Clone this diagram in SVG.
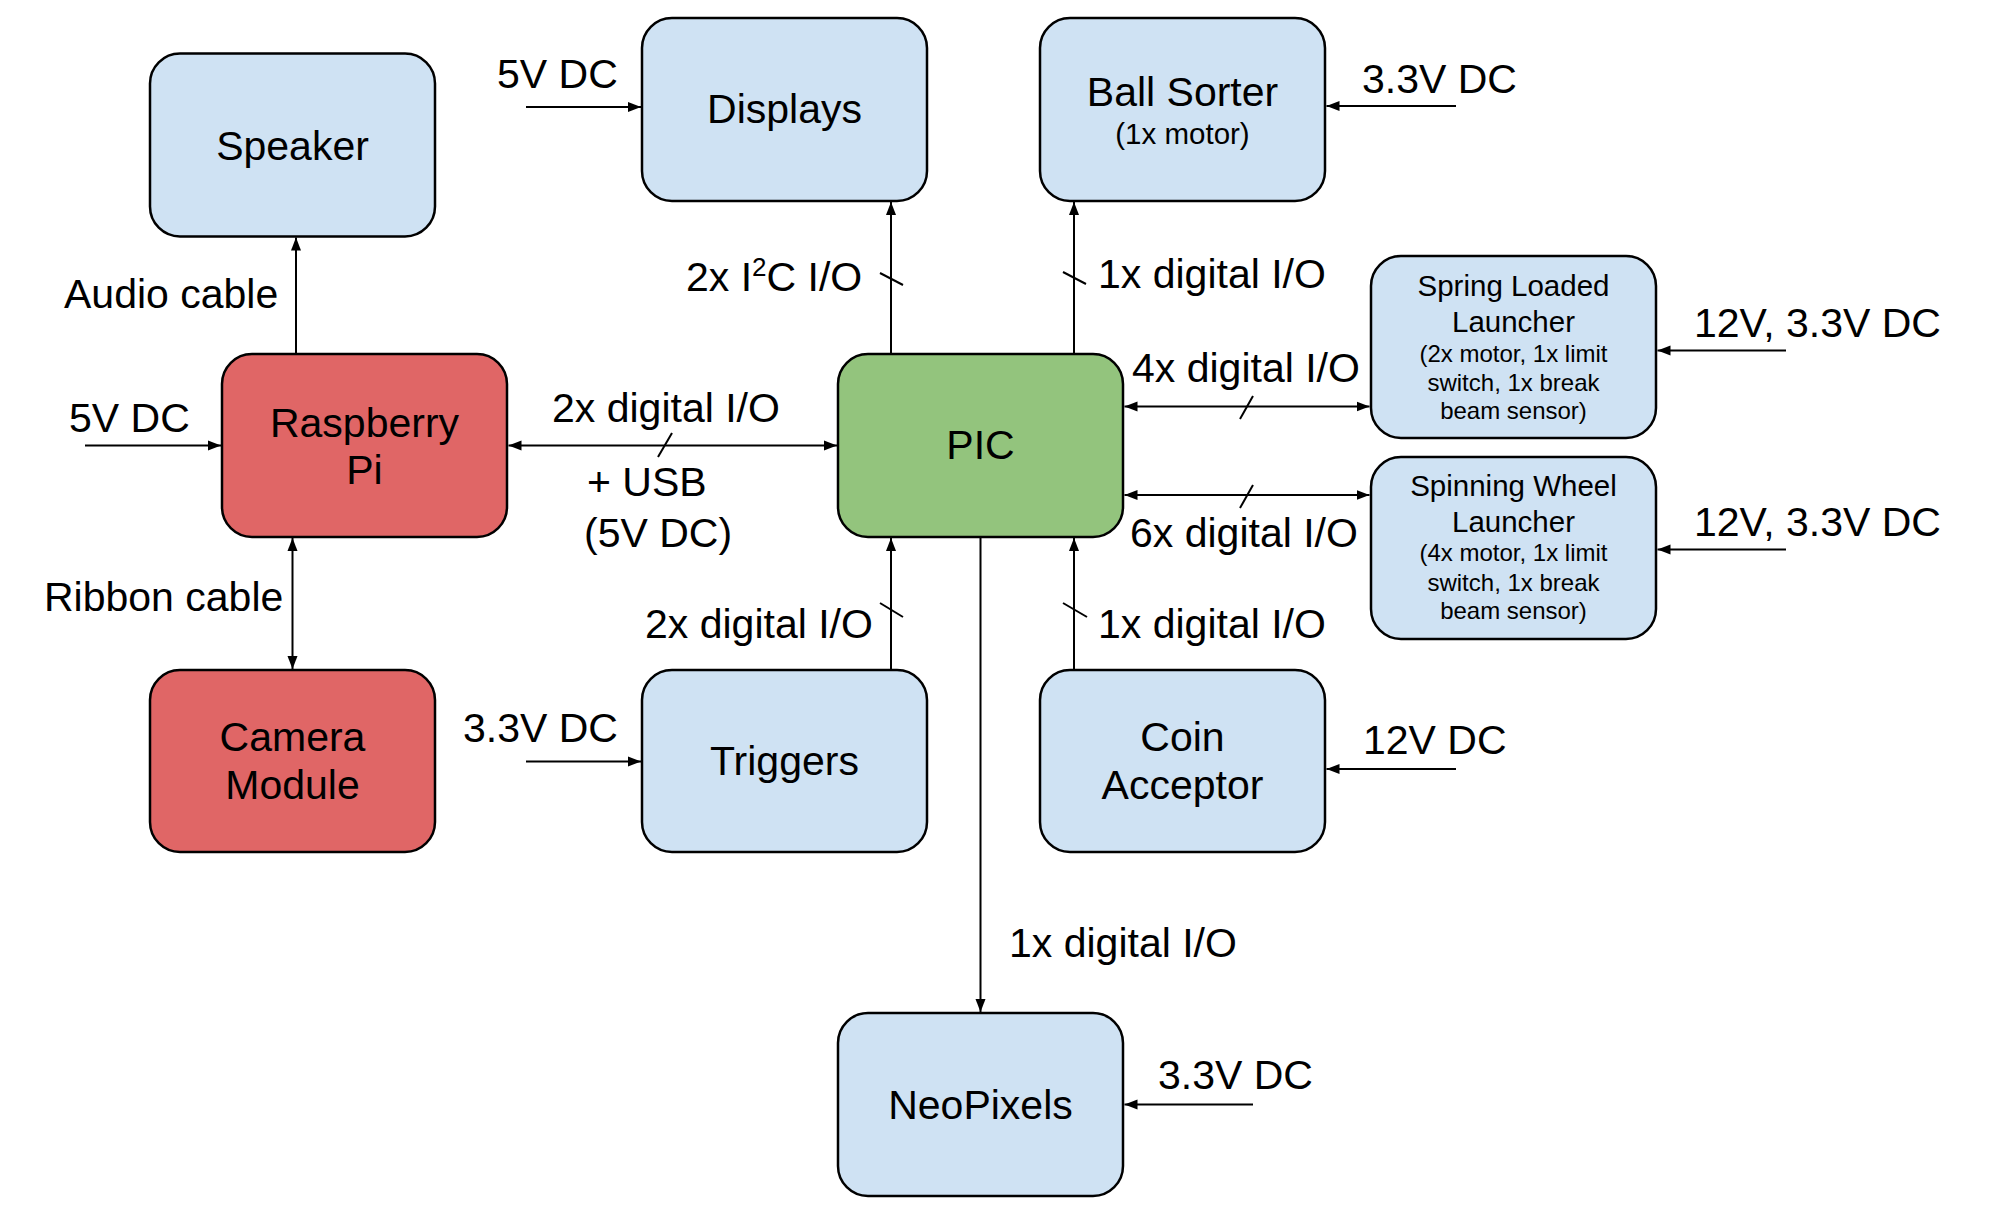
<svg xmlns="http://www.w3.org/2000/svg" width="1992" height="1225" viewBox="0 0 1992 1225">
<style>
.box{stroke:#000;stroke-width:2.5}
.blue{fill:#cfe2f3}
.red{fill:#e06666}
.green{fill:#93c47d}
text{font-family:"Liberation Sans",Arial,sans-serif;fill:#000}
.t{font-size:41px}
.c{text-anchor:middle}
.m{font-size:29.5px}
.s{font-size:24px}
.ln{stroke:#000;stroke-width:2;fill:none}
</style>
<defs>
<marker id="ah" markerUnits="userSpaceOnUse" markerWidth="14" markerHeight="11" refX="13" refY="5" orient="auto-start-reverse" viewBox="0 0 14 10">
<path d="M0,0 L13,5 L0,10 z" fill="#000"/>
</marker>
</defs>
<rect width="1992" height="1225" fill="#fff"/>

<g id="speaker">
<rect class="box blue" x="150" y="53.5" width="285" height="183" rx="30"/>
<text class="t c" x="292.5" y="160">Speaker</text>
</g>
<g id="displays">
<rect class="box blue" x="642" y="18" width="285" height="183" rx="30"/>
<text class="t c" x="784.5" y="123">Displays</text>
</g>
<g id="ballsorter">
<rect class="box blue" x="1040" y="18" width="285" height="183" rx="30"/>
<text class="t c" x="1182.5" y="106">Ball Sorter</text>
<text class="m c" x="1182.5" y="144">(1x motor)</text>
</g>
<g id="raspberrypi">
<rect class="box red" x="222" y="354" width="285" height="183" rx="30"/>
<text class="t c" x="364.5" y="437">Raspberry</text>
<text class="t c" x="364.5" y="484">Pi</text>
</g>
<g id="pic">
<rect class="box green" x="838" y="354" width="285" height="183" rx="30"/>
<text class="t c" x="980.5" y="459">PIC</text>
</g>
<g id="springlauncher">
<rect class="box blue" x="1371" y="256" width="285" height="182" rx="30"/>
<text class="m c" x="1513.5" y="296">Spring Loaded</text>
<text class="m c" x="1513.5" y="332">Launcher</text>
<text class="s c" x="1513.5" y="362">(2x motor, 1x limit</text>
<text class="s c" x="1513.5" y="391">switch, 1x break</text>
<text class="s c" x="1513.5" y="419">beam sensor)</text>
</g>
<g id="spinninglauncher">
<rect class="box blue" x="1371" y="457" width="285" height="182" rx="30"/>
<text class="m c" x="1513.5" y="496">Spinning Wheel</text>
<text class="m c" x="1513.5" y="532">Launcher</text>
<text class="s c" x="1513.5" y="561">(4x motor, 1x limit</text>
<text class="s c" x="1513.5" y="591">switch, 1x break</text>
<text class="s c" x="1513.5" y="619">beam sensor)</text>
</g>
<g id="camera">
<rect class="box red" x="150" y="670" width="285" height="182" rx="30"/>
<text class="t c" x="292.5" y="751">Camera</text>
<text class="t c" x="292.5" y="799">Module</text>
</g>
<g id="triggers">
<rect class="box blue" x="642" y="670" width="285" height="182" rx="30"/>
<text class="t c" x="784.5" y="775">Triggers</text>
</g>
<g id="coinacceptor">
<rect class="box blue" x="1040" y="670" width="285" height="182" rx="30"/>
<text class="t c" x="1182.5" y="751">Coin</text>
<text class="t c" x="1182.5" y="799">Acceptor</text>
</g>
<g id="neopixels">
<rect class="box blue" x="838" y="1013" width="285" height="183" rx="30"/>
<text class="t c" x="980.5" y="1119">NeoPixels</text>
</g>

<g id="connectors">
<line class="ln" x1="296" y1="354" x2="296" y2="237.5" marker-end="url(#ah)"/>
<line class="ln" x1="292.5" y1="538" x2="292.5" y2="669" marker-start="url(#ah)" marker-end="url(#ah)"/>
<line class="ln" x1="85" y1="445.5" x2="221" y2="445.5" marker-end="url(#ah)"/>
<line class="ln" x1="508.5" y1="445.5" x2="837" y2="445.5" marker-start="url(#ah)" marker-end="url(#ah)"/>
<line class="ln" x1="526" y1="107" x2="641" y2="107" marker-end="url(#ah)"/>
<line class="ln" x1="891" y1="354" x2="891" y2="202" marker-end="url(#ah)"/>
<line class="ln" x1="1074" y1="354" x2="1074" y2="202" marker-end="url(#ah)"/>
<line class="ln" x1="1456" y1="106" x2="1326.5" y2="106" marker-end="url(#ah)"/>
<line class="ln" x1="1124.5" y1="406.5" x2="1369.5" y2="406.5" marker-start="url(#ah)" marker-end="url(#ah)"/>
<line class="ln" x1="1124.5" y1="495" x2="1369.5" y2="495" marker-start="url(#ah)" marker-end="url(#ah)"/>
<line class="ln" x1="1786" y1="350.5" x2="1657.5" y2="350.5" marker-end="url(#ah)"/>
<line class="ln" x1="1786" y1="549.5" x2="1657.5" y2="549.5" marker-end="url(#ah)"/>
<line class="ln" x1="891" y1="670" x2="891" y2="538" marker-end="url(#ah)"/>
<line class="ln" x1="1074" y1="670" x2="1074" y2="538" marker-end="url(#ah)"/>
<line class="ln" x1="526" y1="761.5" x2="641" y2="761.5" marker-end="url(#ah)"/>
<line class="ln" x1="1456" y1="769" x2="1326.5" y2="769" marker-end="url(#ah)"/>
<line class="ln" x1="980.5" y1="537" x2="980.5" y2="1012" marker-end="url(#ah)"/>
<line class="ln" x1="1253" y1="1104.5" x2="1124.5" y2="1104.5" marker-end="url(#ah)"/>
<line class="ln" x1="880" y1="273" x2="903" y2="285"/>
<line class="ln" x1="1063" y1="272" x2="1086" y2="284"/>
<line class="ln" x1="880" y1="603" x2="903" y2="617"/>
<line class="ln" x1="1063" y1="603" x2="1087" y2="617"/>
<line class="ln" x1="672" y1="433" x2="658" y2="457"/>
<line class="ln" x1="1253" y1="396" x2="1240" y2="419"/>
<line class="ln" x1="1253" y1="485" x2="1240" y2="508"/>
</g>

<g id="labels">
<text class="t" x="69" y="431.5">5V DC</text>
<text class="t" x="64" y="308">Audio cable</text>
<text class="t" x="44" y="611">Ribbon cable</text>
<text class="t" x="497" y="88">5V DC</text>
<text class="t" x="686" y="290.5">2x I<tspan font-size="26px" dy="-15">2</tspan><tspan dy="15">C I/O</tspan></text>
<text class="t" x="1098" y="288">1x digital I/O</text>
<text class="t" x="1362" y="93">3.3V DC</text>
<text class="t" x="1694" y="337">12V, 3.3V DC</text>
<text class="t" x="1694" y="536">12V, 3.3V DC</text>
<text class="t" x="1132" y="381.5">4x digital I/O</text>
<text class="t" x="1130" y="546.5">6x digital I/O</text>
<text class="t" x="552" y="422">2x digital I/O</text>
<text class="t" x="587" y="496">+ USB</text>
<text class="t" x="584" y="547">(5V DC)</text>
<text class="t" x="645" y="638">2x digital I/O</text>
<text class="t" x="1098" y="638">1x digital I/O</text>
<text class="t" x="463" y="741.5">3.3V DC</text>
<text class="t" x="1363" y="754">12V DC</text>
<text class="t" x="1009" y="957">1x digital I/O</text>
<text class="t" x="1158" y="1089">3.3V DC</text>
</g>
</svg>
